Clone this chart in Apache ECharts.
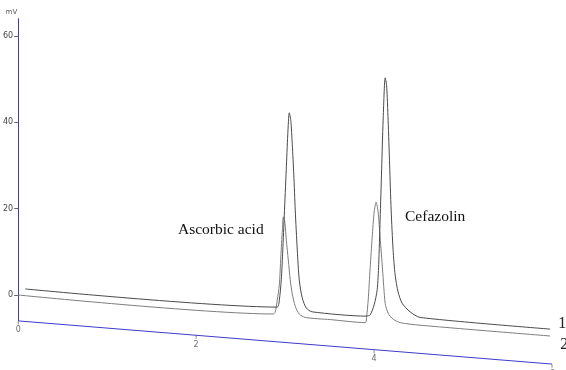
<!DOCTYPE html>
<html>
<head>
<meta charset="utf-8">
<script src="https://cdn.jsdelivr.net/npm/echarts@6/dist/echarts.min.js"></script>
<style>
  html, body { margin: 0; padding: 0; background: #fff; }
  #chart { width: 566px; height: 370px; }
</style>
</head>
<body>
<div id="chart"></div>
<script>
// time (min), signal (mV), baseline drift included
var trace1 = [
  [0.08, 1.4], [2.91, -2.8], [2.935, -1.2], [2.957, 3.5], [2.974, 10.4], [2.991, 18.5],
  [3.013, 29.0], [3.030, 37.1], [3.047, 42.2], [3.064, 40.5], [3.081, 34.8], [3.098, 27.8],
  [3.114, 19.7], [3.137, 10.4], [3.159, 3.5], [3.193, -0.7], [3.238, -3.0], [3.305, -3.9],
  [3.911, -4.9], [3.956, -4.6], [4.001, -2.3], [4.035, 1.2], [4.052, 7.0], [4.068, 17.4],
  [4.085, 29.0], [4.102, 40.5], [4.125, 50.3], [4.141, 48.6], [4.158, 40.5], [4.175, 30.1],
  [4.192, 19.7], [4.214, 10.4], [4.237, 4.6], [4.270, 0.7], [4.315, -1.9], [4.405, -3.9],
  [4.517, -5.2], [5.98, -7.9]
];
var trace2 = [
  [0, 0], [2.868, -4.4], [2.890, -3.9], [2.912, -1.2], [2.935, 2.3], [2.952, 8.8],
  [2.969, 15.1], [2.980, 18.1], [2.997, 16.9], [3.014, 12.7], [3.036, 8.1], [3.058, 3.5],
  [3.081, 0.2], [3.114, -2.6], [3.159, -4.4], [3.227, -5.2], [3.507, -5.7], [3.900, -6.4],
  [3.917, -4.9], [3.934, -1.2], [3.956, 6.3], [3.979, 13.4], [4.001, 19.2], [4.024, 21.5],
  [4.046, 19.2], [4.068, 13.4], [4.096, 5.8], [4.125, -1.9], [4.158, -4.2], [4.214, -5.6],
  [4.293, -6.4], [4.517, -7.0], [5.98, -9.5]
];
var yTicks = [0, 20, 40, 60];
var xTicks = [0, 2, 4, 6];
// ends of the slanted time axis, in (min, mV)
var timeAxis = [[0, -6], [6, -16]];
var peakNames = ["Ascorbic acid", "Cefazolin"];

var blue = "#3b3bcc";
var serif = '"Liberation Serif", "DejaVu Serif", serif';

var tickData = xTicks.map(function (t) {
  var f = (t - timeAxis[0][0]) / (timeAxis[1][0] - timeAxis[0][0]);
  return [t, timeAxis[0][1] + f * (timeAxis[1][1] - timeAxis[0][1])];
});

var myChart = echarts.init(document.getElementById("chart"));
var option = {
  animation: false,
  grid: { left: 18, right: 14, top: 18.7, bottom: 49.1 },
  xAxis: { type: "value", min: 0, max: 6, show: false },
  yAxis: {
    type: "value",
    min: -6,
    max: 64,
    name: "mV",
    nameLocation: "end",
    nameGap: 3,
    nameTextStyle: { align: "right", fontSize: 7, color: "#555", fontFamily: "DejaVu Sans", padding: [0, 1, 0, 0] },
    axisLine: { show: true, lineStyle: { color: blue, width: 1 } },
    axisTick: { show: true, length: 4, lineStyle: { color: "#666" }, customValues: yTicks },
    axisLabel: { margin: 5, fontSize: 8, color: "#444", fontFamily: "DejaVu Sans", customValues: yTicks },
    splitLine: { show: false }
  },
  graphic: [
    { type: "text", left: 178, top: 222, style: { text: peakNames[0], font: "15.5px " + serif, fill: "#111" } },
    { type: "text", left: 405, top: 209, style: { text: peakNames[1], font: "15.5px " + serif, fill: "#111" } }
  ],
  series: [
    {
      name: "axis",
      type: "line",
      data: timeAxis,
      symbol: "none",
      clip: false,
      silent: true,
      lineStyle: { color: blue, width: 1 }
    },
    {
      name: "ticks",
      type: "scatter",
      data: tickData,
      symbol: "rect",
      symbolSize: [1, 3],
      symbolOffset: [0, 2],
      clip: false,
      silent: true,
      itemStyle: { color: "#666" },
      label: {
        show: true,
        position: "bottom",
        distance: 2,
        fontSize: 8,
        color: "#444",
        fontFamily: "DejaVu Sans",
        formatter: function (p) { return String(xTicks[p.dataIndex]); }
      }
    },
    {
      name: "2",
      type: "line",
      data: trace2,
      showSymbol: false,
      smooth: 0.25,
      clip: false,
      lineStyle: { color: "#7d7d7d", width: 1 },
      endLabel: { show: true, formatter: "2", offset: [2, 9], fontSize: 16, color: "#222", fontFamily: serif }
    },
    {
      name: "1",
      type: "line",
      data: trace1,
      showSymbol: false,
      smooth: 0.25,
      clip: false,
      lineStyle: { color: "#4a4a4a", width: 1 },
      endLabel: { show: true, formatter: "1", offset: [0, -5], fontSize: 16, color: "#222", fontFamily: serif }
    }
  ]
};
myChart.setOption(option);
</script>
</body>
</html>
